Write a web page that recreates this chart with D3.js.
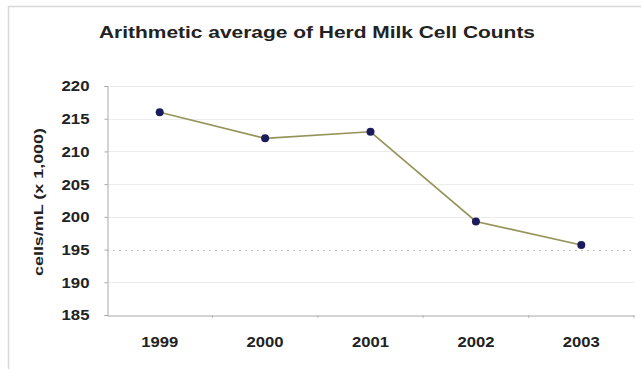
<!DOCTYPE html>
<html>
<head>
<meta charset="utf-8">
<script src="https://cdn.jsdelivr.net/npm/d3@7"></script>
<style>
  html, body { margin: 0; padding: 0; background: #fff; }
  svg { display: block; font-family: "Liberation Sans", Arial, sans-serif; }
</style>
</head>
<body>
<svg id="chart" width="641" height="369"></svg>
<script>
const years = ["1999", "2000", "2001", "2002", "2003"];
const cellCounts = [216, 212, 213, 199.3, 195.7];
const yTicks = [185, 190, 195, 200, 205, 210, 215, 220];
const titleText = "Arithmetic average of Herd Milk Cell Counts";
const yLabelText = "cells/mL (x 1,000)";

const svg = d3.select("#chart");
const mLeft = 107, mRight = 634, mTop = 86, mBottom = 315;

// outer frame
svg.append("rect").attr("x", 8.5).attr("y", 6.5).attr("width", 700).attr("height", 400)
  .attr("fill", "none").attr("stroke", "#d8d8d8").attr("stroke-width", 1.5);

const x = d3.scaleBand().domain(years).range([mLeft, mRight]).padding(0);
const y = d3.scaleLinear().domain([185, 220]).range([mBottom, mTop]);

// gridlines
svg.append("g").selectAll("line").data(yTicks.filter(t => t !== 185)).join("line")
  .attr("x1", mLeft).attr("x2", mRight)
  .attr("y1", d => Math.round(y(d)) + 0.5).attr("y2", d => Math.round(y(d)) + 0.5)
  .attr("stroke", d => d === 195 ? "#c4c4c4" : "#ececec")
  .attr("stroke-dasharray", d => d === 195 ? "2,4" : null)
  .attr("stroke-width", 1);

// y axis
const yAxis = d3.axisLeft(y).tickValues(yTicks).tickSize(3).tickPadding(15).tickFormat(d3.format("d"));
const gy = svg.append("g").attr("transform", `translate(${mLeft + 0.5},0)`).call(yAxis);
gy.select(".domain").attr("stroke", "#a8a8a8");
gy.selectAll(".tick line").attr("stroke", "#a8a8a8");
gy.selectAll(".tick text").attr("font-size", 15.5).attr("font-weight", "bold").attr("fill", "#222")
  .attr("font-family", "Liberation Sans, Arial, sans-serif")
  .attr("textLength", 28).attr("lengthAdjust", "spacingAndGlyphs");

// x axis
const xAxis = d3.axisBottom(x).tickSize(0).tickPadding(20);
const gx = svg.append("g").attr("transform", `translate(0,${mBottom + 0.5})`).call(xAxis);
gx.select(".domain").attr("stroke", "#a8a8a8");
gx.selectAll(".tick text").attr("font-size", 15.5).attr("font-weight", "bold").attr("fill", "#222")
  .attr("font-family", "Liberation Sans, Arial, sans-serif")
  .attr("textLength", 37).attr("lengthAdjust", "spacingAndGlyphs");
// boundary tick marks
const bounds = years.slice(1).map(d => x(d)).concat([mRight]);
svg.append("g").selectAll("line").data(bounds).join("line")
  .attr("x1", d => d).attr("x2", d => d).attr("y1", mBottom).attr("y2", mBottom + 3)
  .attr("stroke", "#b8b8b8");

// line
const line = d3.line().x((d, i) => x(years[i]) + x.bandwidth() / 2).y(d => y(d));
svg.append("path").datum(cellCounts).attr("d", line)
  .attr("fill", "none").attr("stroke", "#94945a").attr("stroke-width", 1.6);

svg.append("g").selectAll("circle").data(cellCounts).join("circle")
  .attr("cx", (d, i) => x(years[i]) + x.bandwidth() / 2).attr("cy", d => y(d))
  .attr("r", 4).attr("fill", "#1c1c5c");

// title
svg.append("text").attr("x", 317).attr("y", 38).attr("text-anchor", "middle")
  .attr("font-size", 16.5).attr("font-weight", "bold").attr("fill", "#222")
  .attr("textLength", 436).attr("lengthAdjust", "spacingAndGlyphs")
  .text(titleText);

// y label
svg.append("text").attr("transform", "translate(43,202) rotate(-90)").attr("text-anchor", "middle")
  .attr("font-size", 13).attr("font-weight", "bold").attr("fill", "#222")
  .attr("textLength", 148).attr("lengthAdjust", "spacingAndGlyphs")
  .text(yLabelText);
</script>
</body>
</html>
